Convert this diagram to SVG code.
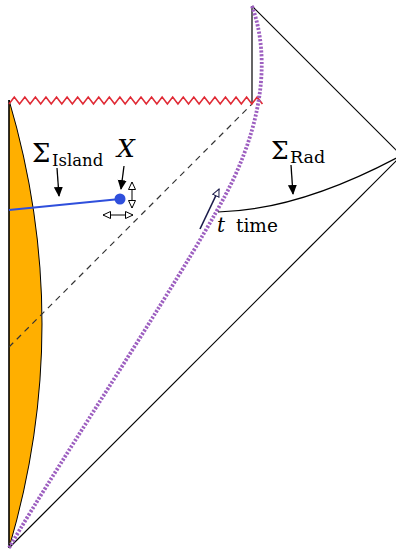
<svg xmlns="http://www.w3.org/2000/svg" width="396" height="552" viewBox="0 0 396 552">
<style>
.ln{fill:none;stroke:#000;stroke-width:1.2}
text{font-family:'DejaVu Serif','Liberation Serif',serif;fill:#000}
.it{font-style:italic}
</style>
<defs>
<marker id="fa" markerUnits="userSpaceOnUse" markerWidth="10" markerHeight="12" refX="9" refY="4.5" orient="auto">
<path d="M0,0 L10,4.5 L0,9 z" fill="#000"/>
</marker>
<marker id="oa" markerUnits="userSpaceOnUse" markerWidth="10" markerHeight="10" refX="8" refY="4" orient="auto">
<path d="M0.5,0.5 L8,4 L0.5,7.5 z" fill="#fff" stroke="#000" stroke-width="1"/>
</marker>
<marker id="ob" markerUnits="userSpaceOnUse" markerWidth="10" markerHeight="10" refX="8" refY="4" orient="auto">
<path d="M0.5,0.5 L8,4 L0.5,7.5 z" fill="#fff" stroke="#1a1a4a" stroke-width="1"/>
</marker>
</defs>
<g id="island">
<path d="M9,100 Q75,324 9,548 Z" fill="#ffaf00" stroke="#000" stroke-width="1"/>
</g>
<g id="boundaries">
<line class="ln" x1="9" y1="100" x2="9" y2="548"/>
<line class="ln" x1="252" y1="6" x2="252" y2="104"/>
<line class="ln" x1="252" y1="6" x2="402" y2="156"/>
<line class="ln" x1="9" y1="548" x2="402" y2="155"/>
<line x1="9" y1="347" x2="252" y2="104" stroke="#333" stroke-width="1.2" stroke-dasharray="6 5"/>
</g>
<g id="singularity">
<path d="M9,104 l5.28,-7 5.28,7 5.28,-7 5.28,7 5.28,-7 5.28,7 5.28,-7 5.28,7 5.28,-7 5.28,7 5.28,-7 5.28,7 5.28,-7 5.28,7 5.28,-7 5.28,7 5.28,-7 5.28,7 5.28,-7 5.28,7 5.28,-7 5.28,7 5.28,-7 5.28,7 5.28,-7 5.28,7 5.28,-7 5.28,7 5.28,-7 5.28,7 5.28,-7 5.28,7 5.28,-7 5.28,7 5.28,-7 5.28,7 5.28,-7 5.28,7 5.28,-7 5.28,7 5.28,-7 5.28,7 5.28,-7 5.28,7 5.28,-7 5.28,7 5.28,-7 5.28,7" fill="none" stroke="#e02a35" stroke-width="1.6"/>
</g>
<g id="observer-curve">
<path d="M252,6 C268,50 266,110 233,180 C200,250 60,460 9,548" fill="none" stroke="#9d5fc0" stroke-width="3.8" stroke-dasharray="2.2 1.6"/>
</g>
<g id="sigma-rad">
<path d="M218,212 Q300,210 402,155" class="ln"/>
</g>
<g id="sigma-island">
<line x1="9" y1="210" x2="120" y2="199" stroke="#2f4fdc" stroke-width="2.2"/>
<circle cx="120" cy="199" r="5.5" fill="#2f4fdc"/>
</g>
<g id="connectors">
<line x1="57" y1="168" x2="59" y2="196" stroke="#000" stroke-width="1.3" marker-end="url(#fa)"/>
<line x1="124" y1="166" x2="121" y2="189" stroke="#000" stroke-width="1.3" marker-end="url(#fa)"/>
<line x1="291" y1="165" x2="293" y2="194" stroke="#000" stroke-width="1.3" marker-end="url(#fa)"/>
<line x1="132" y1="195" x2="132" y2="182" stroke="#000" stroke-width="1" marker-end="url(#oa)"/>
<line x1="132" y1="195" x2="132" y2="208" stroke="#000" stroke-width="1" marker-end="url(#oa)"/>
<line x1="118" y1="215" x2="103" y2="215" stroke="#000" stroke-width="1" marker-end="url(#oa)"/>
<line x1="118" y1="215" x2="133" y2="215" stroke="#000" stroke-width="1" marker-end="url(#oa)"/>
<line x1="200" y1="229" x2="219" y2="189" stroke="#1a1a4a" stroke-width="1.6" marker-end="url(#ob)"/>
</g>
<g id="labels">
<text x="32" y="162" font-size="26">Σ</text>
<text x="52" y="166" font-size="16.5">Island</text>
<text class="it" x="117" y="157" font-size="25">X</text>
<text x="271" y="159" font-size="25">Σ</text>
<text x="290" y="163" font-size="17.5">Rad</text>
<text class="it" x="217" y="232" font-size="20">t</text>
<text x="236" y="232" font-size="18.5">time</text>
</g>
</svg>
